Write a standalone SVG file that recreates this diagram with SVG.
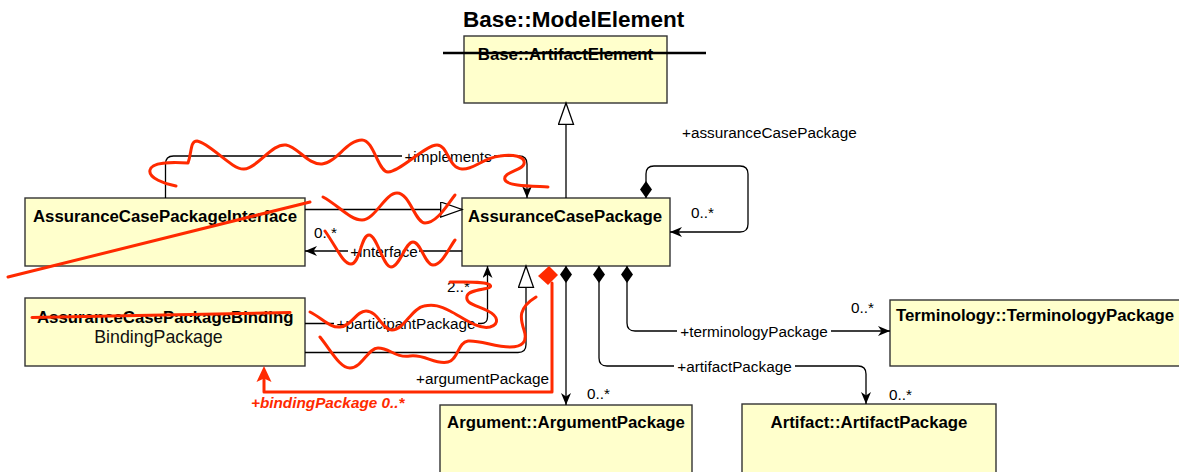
<svg xmlns="http://www.w3.org/2000/svg" width="1179" height="472" viewBox="0 0 1179 472">
  <style>
    .box { fill: #ffffcc; stroke: #333333; stroke-width: 1.4; }
    .cls { font-family: "Liberation Sans", Arial, sans-serif; font-weight: bold; font-size: 16.8px; fill: #000; }
    .sub { font-family: "Liberation Sans", Arial, sans-serif; font-size: 17.8px; fill: #111; }
    .lbl { font-family: "Liberation Sans", Arial, sans-serif; font-size: 15.3px; fill: #000; }
    .edge { fill: none; stroke: #000; stroke-width: 1.3; }
    .bg { fill: #ffffff; }
    .red { fill: none; stroke: #ff2a00; stroke-width: 3; stroke-linecap: round; stroke-linejoin: round; }
    .redfill { fill: #ff2a00; stroke: none; }
  </style>
  <defs>
    <marker id="arr" markerUnits="userSpaceOnUse" markerWidth="13" markerHeight="11" refX="12" refY="5" orient="auto" viewBox="0 0 13 11">
      <path d="M0,0 L12,5 L0,10 L3.5,5 Z" fill="#000"/>
    </marker>
    <marker id="tri" markerUnits="userSpaceOnUse" markerWidth="24" markerHeight="17" refX="22" refY="8" orient="auto" viewBox="0 0 24 17">
      <path d="M0.7,0.5 L22,8 L0.7,15.5 Z" fill="#fff" stroke="#000" stroke-width="1.3"/>
    </marker>
    <marker id="dia" markerUnits="userSpaceOnUse" markerWidth="18" markerHeight="13" refX="0" refY="6" orient="auto" viewBox="0 0 18 13">
      <path d="M0,6 L8.5,0 L17,6 L8.5,12 Z" fill="#000"/>
    </marker>
  </defs>

  <rect width="1179" height="472" fill="#ffffff"/>

  <!-- classes -->
  <g id="base-artifact-element">
    <text x="463" y="27" font-family="Liberation Sans, Arial, sans-serif" font-weight="bold" font-size="22.5" fill="#000">Base::ModelElement</text>
    <rect class="box" x="464" y="36" width="203" height="67"/>
    <text class="cls" x="565.5" y="60" text-anchor="middle">Base::ArtifactElement</text>
    <line x1="443" y1="53" x2="706" y2="53" stroke="#000" stroke-width="2.5"/>
  </g>

  <g id="assurance-case-package-interface">
    <rect class="box" x="25" y="198" width="280" height="68"/>
    <text class="cls" x="33" y="222">AssuranceCasePackageInterface</text>
  </g>

  <g id="assurance-case-package">
    <rect class="box" x="462" y="198" width="208" height="68"/>
    <text class="cls" x="468" y="222">AssuranceCasePackage</text>
  </g>

  <g id="binding-package">
    <rect class="box" x="25" y="298" width="280" height="68"/>
    <text class="cls" x="37" y="323">AssuranceCasePackageBinding</text>
    <text class="sub" x="158.5" y="343" text-anchor="middle">BindingPackage</text>
  </g>

  <g id="terminology-package">
    <rect class="box" x="890" y="300" width="300" height="66"/>
    <text class="cls" x="896" y="321">Terminology::TerminologyPackage</text>
  </g>

  <g id="argument-package">
    <rect class="box" x="440" y="405" width="252" height="80"/>
    <text class="cls" x="566" y="428" text-anchor="middle">Argument::ArgumentPackage</text>
  </g>

  <g id="artifact-package">
    <rect class="box" x="742" y="404" width="254" height="80"/>
    <text class="cls" x="869" y="428" text-anchor="middle">Artifact::ArtifactPackage</text>
  </g>

  <!-- associations and generalizations -->
  <g id="connectors">
    <path class="edge" d="M165.5,198 V164 Q165.5,156 173.5,156 H519 Q527,156 527,164 V198" marker-end="url(#arr)"/>
    <path class="edge" d="M305,209.5 H462" marker-end="url(#tri)"/>
    <path class="edge" d="M462,251 H305" marker-end="url(#arr)"/>
    <path class="edge" d="M305,323.5 H481 Q487.5,323.5 487.5,317 V266" marker-end="url(#arr)"/>
    <path class="edge" d="M305,352.5 H518 Q526,352.5 526,344.5 V266" marker-end="url(#tri)"/>
    <path class="edge" d="M566,198 V103" marker-end="url(#tri)"/>
    <path class="edge" d="M566,266 V405" marker-start="url(#dia)" marker-end="url(#arr)"/>
    <path class="edge" d="M599,266 V358 Q599,366 607,366 H858 Q866,366 866,374 V404" marker-start="url(#dia)" marker-end="url(#arr)"/>
    <path class="edge" d="M627,266 V323 Q627,331 635,331 H890" marker-start="url(#dia)" marker-end="url(#arr)"/>
    <path class="edge" d="M646,198 V174 Q646,166 654,166 H740 Q748,166 748,174 V224 Q748,232 740,232 H670" marker-start="url(#dia)" marker-end="url(#arr)"/>

    <rect class="bg" x="402" y="148" width="92" height="16"/>
    <text class="lbl" x="448" y="161.5" text-anchor="middle">+implements</text>
    <rect class="bg" x="348" y="243" width="71" height="16"/>
    <text class="lbl" x="384" y="256.5" text-anchor="middle">+interface</text>
    <rect class="bg" x="334" y="315" width="144" height="16"/>
    <text class="lbl" x="406" y="329" text-anchor="middle">+participantPackage</text>
    <rect class="bg" x="677" y="323" width="154" height="16"/>
    <text class="lbl" x="754" y="336.5" text-anchor="middle">+terminologyPackage</text>
    <rect class="bg" x="674" y="358" width="121" height="16"/>
    <text class="lbl" x="734.5" y="371.5" text-anchor="middle">+artifactPackage</text>

    <text class="lbl" x="682" y="138">+assuranceCasePackage</text>
    <text class="lbl" x="691" y="218">0..*</text>
    <text class="lbl" x="314" y="238">0..*</text>
    <text class="lbl" x="447" y="292">2..*</text>
    <text class="lbl" x="416" y="383.5">+argumentPackage</text>
    <text class="lbl" x="587" y="399">0..*</text>
    <text class="lbl" x="851" y="313">0..*</text>
    <text class="lbl" x="889" y="400">0..*</text>
  </g>

  <!-- red review markup -->
  <g id="markup">
    <path class="red" d="M176,186 C165,184 148,178 150,170 C152,162 170,162 188,163 C192,152 190,141 197,141 C210,143 232,170 244,169 C258,168 272,143 286,145 C298,147 308,165 322,164 C336,163 347,140 362,140 C374,140 378,172 388,172 C400,172 425,145 437,145 C448,145 448,168 462,169 C474,170 482,158 500,156 C512,154 526,156 524,164 C522,171 502,172 505,180 C508,186 530,186 548,187"/>
    <path class="red" d="M323,197 C338,205 350,220 362,220 C375,220 385,193 397,193 C410,193 415,223 425,223 C437,223 447,205 455,195"/>
    <path class="red" d="M325,231 C337,248 343,264 351,264 C360,264 361,235 369,235 C377,235 383,267 391,267 C400,267 405,242 413,242 C421,242 425,265 433,265 C442,265 449,248 455,240"/>
    <path class="red" d="M310,312 C322,318 330,328 340,327 C352,326 356,311 366,311 C378,311 382,330 392,330 C404,330 412,308 424,306 C434,304 440,306 450,311 C462,317 478,330 490,327 C500,324 498,316 488,311 C476,305 465,304 467,296 C469,288 495,290 490,285 C485,281 465,282 450,282"/>
    <path class="red" d="M320,337 C332,352 340,368 350,368 C362,368 368,348 378,348 C390,348 395,358 410,356 C425,354 435,365 448,362 C458,360 458,342 468,341 C480,340 495,347 510,347 C522,347 528,342 524,330 C520,318 518,308 536,297"/>
    <line class="red" x1="8" y1="277" x2="310" y2="202"/>
    <line class="red" x1="32" y1="317.5" x2="290" y2="312.5"/>
    <polygon class="redfill" points="549,266 558,275 548,285 538,276"/>
    <path class="red" d="M552,283 V392 H264 V378" stroke-linecap="butt"/>
    <path class="redfill" d="M264,366 L271.5,382 L264,378.5 L256.5,382 Z"/>
    <text x="251" y="408" font-family="Liberation Sans, Arial, sans-serif" font-weight="bold" font-style="italic" font-size="15.3" fill="#ff2a00">+bindingPackage 0..*</text>
  </g>
</svg>
